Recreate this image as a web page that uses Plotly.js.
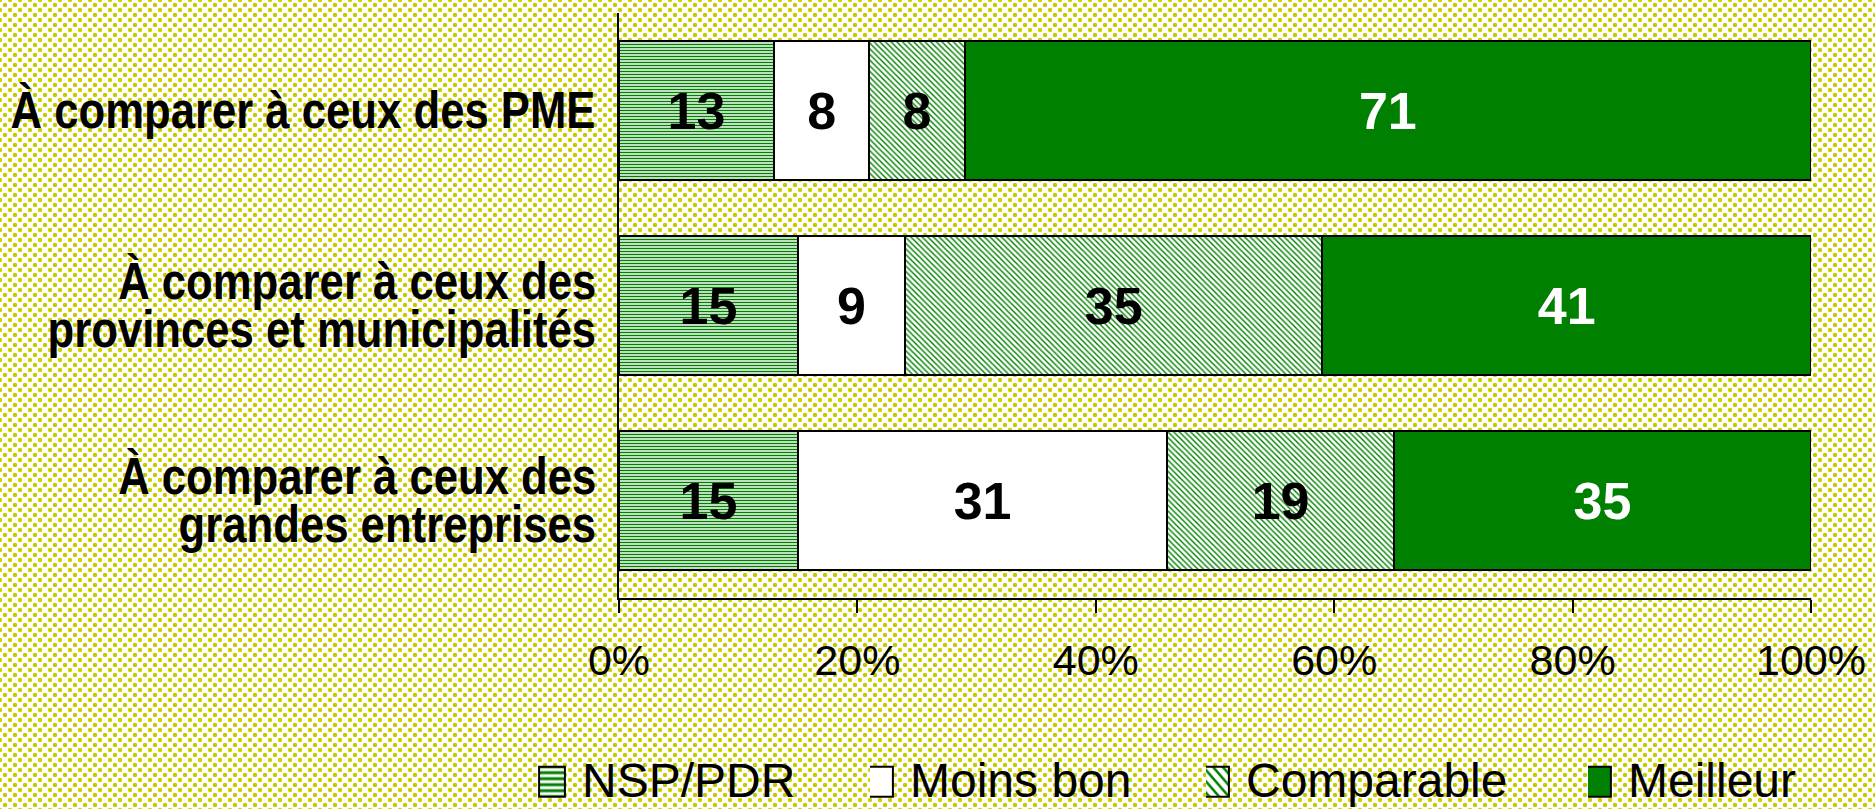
<!DOCTYPE html>
<html>
<head>
<meta charset="utf-8">
<script src="https://cdn.plot.ly/plotly-3.0.1.min.js"></script>
<style>
  html, body { margin: 0; padding: 0; }
  body {
    width: 1875px; height: 809px; overflow: hidden;
    background-color: #ffffff;
    background-image:
      radial-gradient(circle at center, #c8c800 0, #c8c800 1.8px, rgba(200,200,0,0) 2.6px),
      radial-gradient(circle at center, #d0d000 0, #d0d000 1.8px, rgba(208,208,0,0) 2.6px);
    background-size: 10px 10px, 10px 10px;
    background-position: 0 0, 5px 5px;
  }
  #chart { width: 1875px; height: 809px; }
  /* the original category labels use a condensed bold face */
  #chart .annotation-text {
    transform-box: fill-box;
    transform-origin: 100% 50%;
    transform: scaleX(0.84);
  }
</style>
</head>
<body>
<div id="chart"></div>
<script>
// ---- data ----
const categories = [
  'À comparer à ceux des PME',
  'À comparer à ceux des<br>provinces et municipalités',
  'À comparer à ceux des<br>grandes entreprises'
];
const seriesNames = ['NSP/PDR', 'Moins bon', 'Comparable', 'Meilleur'];
const nspPdr     = [13, 15, 15];
const moinsBon   = [8, 9, 31];
const comparable = [8, 35, 19];
const meilleur   = [71, 41, 35];
const xTickVals  = [0, 20, 40, 60, 80, 100];
const xTickText  = ['0%', '20%', '40%', '60%', '80%', '100%'];

// ---- styling ----
const SANS = '"Liberation Sans", Arial, Helvetica, sans-serif';
const GREEN = '#008000';

function barTrace(name, values, fill, pattern, textColor, legendId) {
  const marker = { color: fill, line: { color: '#000000', width: 2 } };
  if (pattern) marker.pattern = pattern;
  return {
    type: 'bar', orientation: 'h', name: name,
    y: categories, x: values,
    marker: marker,
    text: values.map(String),
    texttemplate: '%{text}',
    textposition: 'inside', insidetextanchor: 'middle',
    constraintext: 'none', textangle: 0,
    textfont: { family: SANS, size: 52, color: textColor, weight: 'bold' },
    hoverinfo: 'skip',
    legend: legendId
  };
}

const data = [
  barTrace(seriesNames[0], nspPdr, '#ffffff',
    { shape: '-', fgcolor: GREEN, bgcolor: '#ffffff', size: 3, solidity: 0.5, fillmode: 'replace' },
    '#000000', 'legend'),
  barTrace(seriesNames[1], moinsBon, '#ffffff', null, '#000000', 'legend2'),
  barTrace(seriesNames[2], comparable, '#ffffff',
    { shape: '\\', fgcolor: GREEN, bgcolor: '#ffffff', size: 4, solidity: 0.35, fillmode: 'replace' },
    '#000000', 'legend3'),
  barTrace(seriesNames[3], meilleur, GREEN, null, '#ffffff', 'legend4')
];

// category labels drawn line by line (tight line spacing like the original)
const LINE_H = 48;
const annotations = [];
categories.forEach(function (cat) {
  const lines = cat.split('<br>');
  const n = lines.length;
  lines.forEach(function (ln, i) {
    annotations.push({
      xref: 'paper', yref: 'y', x: 0, y: cat,
      xanchor: 'right', yanchor: 'middle', align: 'right',
      xshift: -21, yshift: ((n - 1) / 2 - i) * LINE_H + 1,
      text: ln, showarrow: false,
      font: { family: SANS, size: 52, color: '#000000', weight: 'bold' }
    });
  });
});

function legendAt(xpx) {
  return {
    xref: 'container', yref: 'container',
    x: xpx / 1875, y: (809 - 779) / 809,
    xanchor: 'left', yanchor: 'middle',
    orientation: 'h', bgcolor: 'rgba(0,0,0,0)', borderwidth: 0,
    font: { family: SANS, size: 48, color: '#000000' },
    itemclick: false, itemdoubleclick: false
  };
}

const layout = {
  width: 1875, height: 809,
  margin: { l: 619, r: 64, t: 13, b: 211, pad: 0 },
  paper_bgcolor: 'rgba(0,0,0,0)',
  plot_bgcolor: 'rgba(0,0,0,0)',
  barmode: 'stack',
  bargap: 0.287,
  showlegend: true,
  xaxis: {
    range: [0, 100], fixedrange: true,
    tickvals: xTickVals, ticktext: xTickText,
    showgrid: false, zeroline: false,
    showline: true, linecolor: '#000000', linewidth: 2,
    ticks: 'outside', ticklen: 13, tickwidth: 2, tickcolor: '#000000',
    ticklabelstandoff: 10,
    tickfont: { family: SANS, size: 43, color: '#000000' }
  },
  yaxis: {
    type: 'category', autorange: 'reversed', fixedrange: true,
    showgrid: false, zeroline: false,
    showline: true, linecolor: '#000000', linewidth: 2,
    ticks: '', showticklabels: false
  },
  legend: legendAt(542),
  legend2: legendAt(870),
  legend3: legendAt(1206),
  legend4: legendAt(1588),
  annotations: annotations
};

Plotly.newPlot('chart', data, layout, { displayModeBar: false, staticPlot: true }).then(function (gd) {
  // let the enlarged swatches extend past each legend's clip box
  gd.querySelectorAll('.legend [clip-path]').forEach(function (el) {
    el.removeAttribute('clip-path');
  });
  // enlarge legend swatches to match the original's tall boxes
  gd.querySelectorAll('.legendpoints path').forEach(function (p) {
    const t = p.getAttribute('transform') || '';
    p.setAttribute('transform', t + ' translate(-10,3) scale(2.15,2.5)');
    p.style.vectorEffect = 'non-scaling-stroke';
  });
});
</script>
</body>
</html>
